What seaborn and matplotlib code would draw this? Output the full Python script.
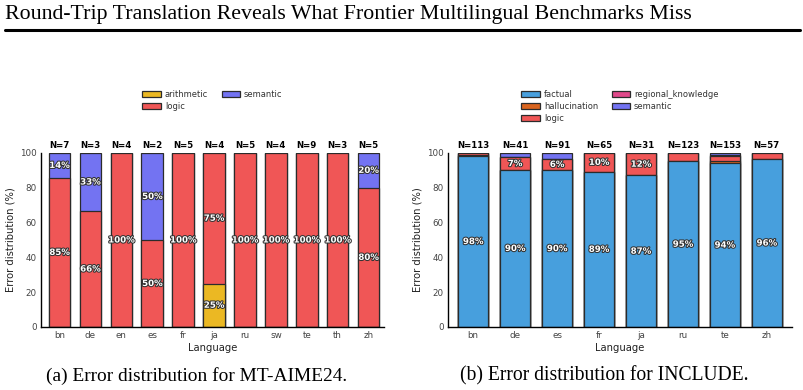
import numpy as np
import pandas as pd
import matplotlib
matplotlib.use("Agg")
import matplotlib.pyplot as plt
import seaborn as sns
from matplotlib.patches import Patch
from matplotlib.lines import Line2D
import matplotlib.patheffects as pe

sns.set_theme(style="white")
plt.rcParams['font.family'] = ['DejaVu Sans']

# ---- Data: MT-AIME24 (counts per error type) ----
aime_langs = ["bn", "de", "en", "es", "fr", "ja", "ru", "sw", "te", "th", "zh"]
aime_arithmetic = [0, 0, 0, 0, 0, 1, 0, 0, 0, 0, 0]
aime_logic = [6, 2, 4, 1, 5, 3, 5, 4, 9, 3, 4]
aime_semantic = [1, 1, 0, 1, 0, 0, 0, 0, 0, 0, 1]

# ---- Data: INCLUDE (counts per error type) ----
inc_langs = ["bn", "de", "es", "fr", "ja", "ru", "te", "zh"]
inc_factual = [111, 37, 82, 58, 27, 117, 144, 55]
inc_hallucination = [1, 0, 0, 0, 0, 0, 2, 0]
inc_logic = [1, 3, 6, 7, 4, 6, 4, 2]
inc_regional_knowledge = [0, 0, 0, 0, 0, 0, 1, 0]
inc_semantic = [0, 1, 3, 0, 0, 0, 2, 0]

COLORS = {
    "arithmetic": "#EBB823",
    "logic": "#F05656",
    "semantic": "#7373F2",
    "factual": "#479FDD",
    "hallucination": "#D9641E",
    "regional_knowledge": "#E0488A",
}
EDGE = "#2b2b2b"

W, H = 804, 390
fig = plt.figure(figsize=(W / 100, H / 100), dpi=100)


def px_axes(x0, x1, y0, y1):
    return fig.add_axes([x0 / W, 1 - y1 / H, (x1 - x0) / W, (y1 - y0) / H])


def stacked(ax, langs, layers, names, xlim):
    counts = np.array(layers, dtype=float)
    totals = counts.sum(axis=0)
    pcts = counts / totals * 100
    cum = np.cumsum(pcts, axis=0)
    for i in range(len(names) - 1, -1, -1):
        df = pd.DataFrame({"lang": langs, "v": cum[i]})
        sns.barplot(data=df, x="lang", y="v", order=langs, color=COLORS[names[i]],
                    saturation=1, width=0.7, edgecolor=EDGE, linewidth=0.9,
                    errorbar=None, ax=ax)
    for i in range(len(names)):
        for j in range(len(langs)):
            p = pcts[i, j]
            if p >= 5:
                ax.text(j, cum[i, j] - p / 2, f"{int(p)}%", ha="center", va="center",
                        fontsize=6.2, fontweight="bold", color="white",
                        path_effects=[pe.withStroke(linewidth=1.5, foreground="#333333")])
    for j in range(len(langs)):
        ax.annotate(f"N={int(totals[j])}", (j, 100), xytext=(0, 2.5),
                    textcoords="offset points", ha="center", va="bottom",
                    fontsize=6.2, fontweight="bold", color="black")
    ax.set_xlim(*xlim)
    ax.set_ylim(0, 100)
    ax.set_yticks([0, 20, 40, 60, 80, 100])
    ax.set_xlabel("Language", fontsize=7.2, labelpad=2, color="#222222")
    ax.set_ylabel("Error distribution (%)", fontsize=7.2, labelpad=3, color="#222222")
    ax.tick_params(axis="both", labelsize=6.3, length=0, pad=3, colors="#444444")
    sns.despine(ax=ax)
    for s in ["left", "bottom"]:
        ax.spines[s].set_color("black")
        ax.spines[s].set_linewidth(1.0)
    handles = [Patch(facecolor=COLORS[n], edgecolor=EDGE, linewidth=0.9) for n in names]
    ax.legend(handles, names, ncol=2, loc="upper center", bbox_to_anchor=(0.5, 1.405),
              frameon=False, fontsize=6, handlelength=2.2, handleheight=0.75,
              columnspacing=1.6, labelspacing=0.35, handletextpad=0.5,
              labelcolor="#333333")


ax1 = px_axes(41, 384, 153, 327)
stacked(ax1, aime_langs, [aime_arithmetic, aime_logic, aime_semantic],
        ["arithmetic", "logic", "semantic"], (-0.6, 10.5))

ax2 = px_axes(448, 792, 153, 327)
stacked(ax2, inc_langs,
        [inc_factual, inc_hallucination, inc_logic, inc_regional_knowledge, inc_semantic],
        ["factual", "hallucination", "logic", "regional_knowledge", "semantic"],
        (-0.6, 7.6))

renderer = fig.canvas.get_renderer()


def fit_text(x, y, s, target_w, **kw):
    t = fig.text(x / W, 1 - y / H, s, **kw)
    w = t.get_window_extent(renderer).width
    t.set_fontsize(t.get_fontsize() * target_w / w)
    return t


fit_text(5, 14, "Round-Trip Translation Reveals What Frontier Multilingual Benchmarks Miss",
         692, fontsize=14, family="Liberation Serif", ha="left", va="center", color="black")
fig.add_artist(Line2D([5 / W, 800 / W], [1 - 29.5 / H] * 2, transform=fig.transFigure,
                      color="black", linewidth=2.2))

fit_text(197, 376, "(a) Error distribution for MT-AIME24.", 300,
         fontsize=12, family="Liberation Serif", ha="center", va="center", color="black")
fit_text(604, 376, "(b) Error distribution for INCLUDE.", 288,
         fontsize=12, family="Liberation Serif", ha="center", va="center", color="black")

fig.savefig("out.png", dpi=100)
